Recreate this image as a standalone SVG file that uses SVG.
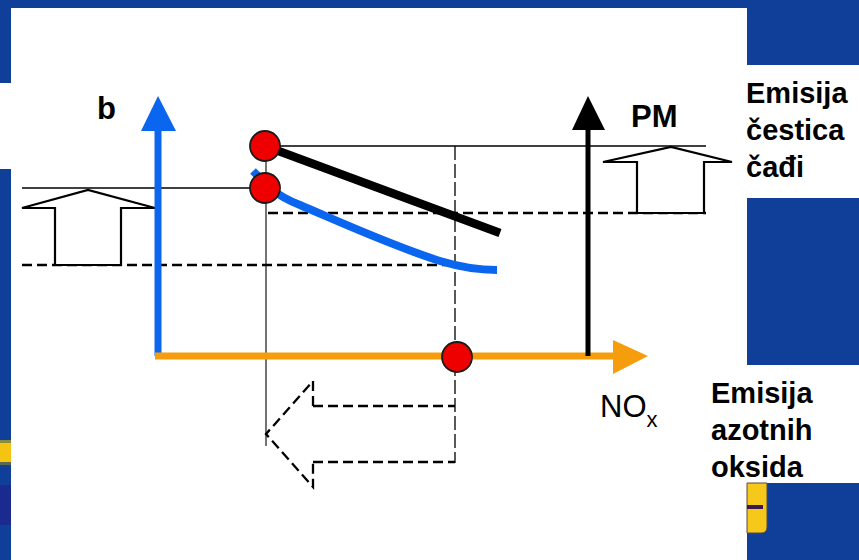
<svg xmlns="http://www.w3.org/2000/svg" width="859" height="560" viewBox="0 0 859 560">
  <style>
    .bg { fill: #0f3f98; }
    .white { fill: #ffffff; }
    .thin { stroke: #000; stroke-width: 1.6; fill: none; }
    .hair { stroke: #000; stroke-width: 1.1; fill: none; }
    .dash { stroke: #000; stroke-width: 2.3; fill: none; stroke-dasharray: 10 5; }
    .vdash { stroke: #000; stroke-width: 1.3; fill: none; stroke-dasharray: 14 4; }
    .hollow { stroke: #000; stroke-width: 2.2; fill: #fff; stroke-linejoin: miter; }
    .dot { fill: #ee0000; stroke: #1a1a1a; stroke-width: 1.8; }
    .lbl { font-family: "Liberation Sans", Arial, sans-serif; fill: #000; }
    .side { font-family: "Liberation Sans", Arial, sans-serif; font-weight: bold; font-size: 29px; fill: #000; }
  </style>

  <!-- background -->
  <g id="background">
    <rect class="bg" x="0" y="0" width="859" height="560"/>
    <rect class="white" x="11" y="8" width="736" height="552"/>
    <rect class="white" x="0" y="83" width="11" height="86"/>
    <rect class="white" x="747" y="65" width="112" height="133"/>
    <rect class="white" x="747" y="365" width="112" height="118"/>
    <rect x="0" y="440" width="11" height="3" fill="#8a8a40"/>
    <rect x="0" y="443" width="11" height="19" fill="#f4c412"/>
    <rect x="0" y="462" width="11" height="3" fill="#5a6a50"/>
    <rect x="0" y="485" width="11" height="40" fill="#1a2a8e"/>
    <path d="M747 483 H767 V527 Q767 533 761 533 H747 Z" fill="#f5c81a" stroke="#5a4a40" stroke-width="1"/>
    <rect x="747" y="505" width="16" height="4" fill="#3a1a4e"/>
  </g>

  <!-- reference lines and connectors -->
  <g id="connectors">
    <line class="thin" x1="22" y1="188" x2="252" y2="188"/>
    <line class="thin" x1="265" y1="146" x2="706" y2="146"/>
    <line class="dash" x1="268" y1="213" x2="706" y2="213"/>
    <line class="dash" x1="22" y1="265" x2="452" y2="265"/>
    <line class="hair" x1="266" y1="146" x2="266" y2="446"/>
    <line class="vdash" x1="455" y1="146" x2="455" y2="463"/>
    <line class="dash" x1="313" y1="406" x2="455" y2="406"/>
    <line class="dash" x1="313" y1="462" x2="455" y2="462"/>
    <path class="dash" d="M313 406 V381 L266 434 L313 487 V462" stroke-dasharray="8 5"/>
  </g>

  <!-- hollow up arrows -->
  <g id="arrow-b-up">
    <path class="hollow" d="M22 208 L88 190 L155 208 H121 V265 H55 V208 Z"/>
  </g>
  <g id="arrow-pm-up">
    <path class="hollow" d="M603 162 L671 147 L732 162 H704 V213 H637 V162 Z"/>
  </g>

  <!-- axes -->
  <g id="axis-b">
    <line x1="158" y1="356" x2="158" y2="128" stroke="#0a66ee" stroke-width="7"/>
    <path d="M141 131 L158 96 L176 131 Z" fill="#0a66ee"/>
    <text class="lbl" x="97" y="119" font-size="31" font-weight="bold">b</text>
  </g>
  <g id="axis-nox">
    <line x1="155" y1="356" x2="616" y2="356" stroke="#f59d0c" stroke-width="7"/>
    <path d="M613 340 L648 356 L613 374 Z" fill="#f59d0c"/>
    <text class="lbl" x="600" y="417" font-size="31">NO<tspan font-size="22" dy="10">x</tspan></text>
  </g>
  <g id="axis-pm">
    <line x1="588" y1="356" x2="588" y2="126" stroke="#000" stroke-width="5"/>
    <path d="M572 130 L588 96 L605 130 Z" fill="#000"/>
    <text class="lbl" x="631" y="127" font-size="31" font-weight="bold">PM</text>
  </g>

  <!-- curves -->
  <g id="curve-pm">
    <line x1="265" y1="146" x2="500" y2="233" stroke="#000" stroke-width="8.5"/>
  </g>
  <g id="curve-b">
    <path d="M253 171 Q262 180 270 188 Q282 198 300 205 C340 222 390 245 440 261 Q470 270 497 270" fill="none" stroke="#0a66ee" stroke-width="8"/>
  </g>

  <!-- red points -->
  <g id="point-pm"><circle class="dot" cx="265" cy="146" r="15"/></g>
  <g id="point-b"><circle class="dot" cx="265" cy="188" r="15"/></g>
  <g id="point-nox"><circle class="dot" cx="457" cy="357" r="15"/></g>

  <!-- side labels -->
  <g id="label-soot">
    <text class="side" x="746" y="103">Emisija</text>
    <text class="side" x="746" y="140">čestica</text>
    <text class="side" x="746" y="177">čađi</text>
  </g>
  <g id="label-nox">
    <text class="side" x="711" y="403">Emisija</text>
    <text class="side" x="711" y="440">azotnih</text>
    <text class="side" x="711" y="477">oksida</text>
  </g>
</svg>
